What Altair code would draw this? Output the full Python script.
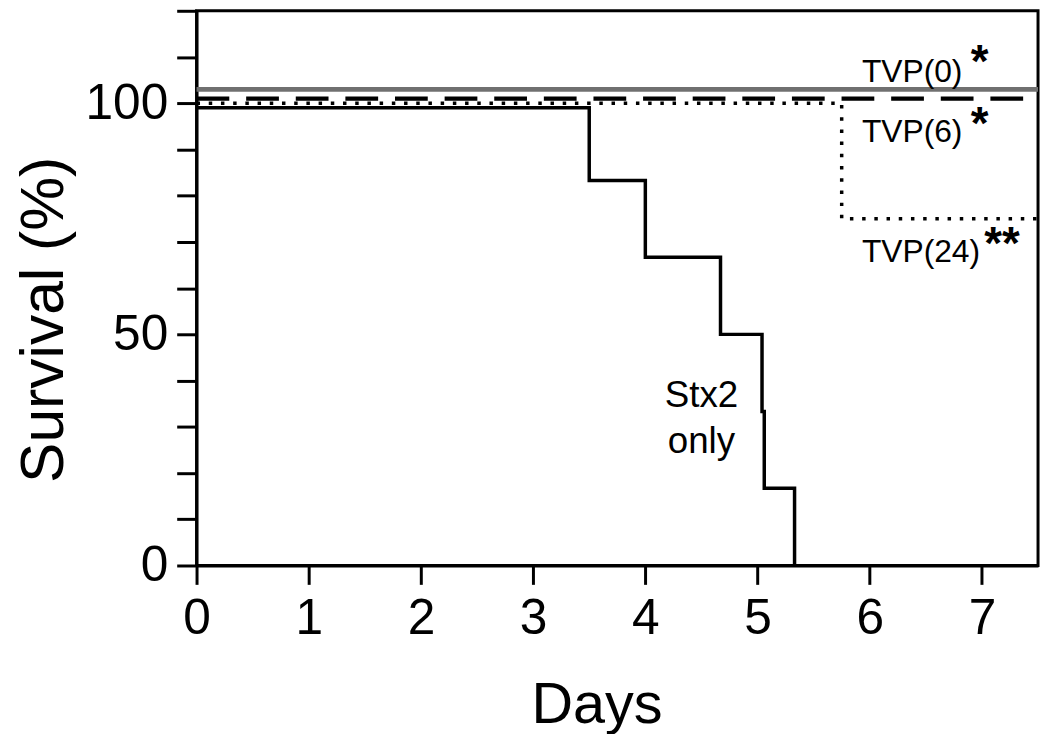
import altair as alt
import pandas as pd

FONT = "Liberation Sans"

# Survival curves (step functions): days and survival (%)
tvp0_days = [0, 7.5]
tvp0_surv = [103, 103]
tvp6_days = [0, 7.5]
tvp6_surv = [101, 101]
tvp24_days = [0, 5.75, 7.5]
tvp24_surv = [100, 75, 75]
stx2_days = [0, 3.5, 4.0, 4.67, 5.04, 5.06, 5.33]
stx2_surv = [99, 83.3, 66.7, 50, 33.3, 16.7, 0]

# Annotations
label_text = ["TVP(0)", "TVP(6)", "TVP(24)"]
label_x = [5.93, 5.93, 5.93]
label_y = [104.7, 91.7, 65.7]
star_text = ["*", "*", "**"]
star_x = [6.9, 6.9, 7.02]
star_y = [105.6, 92.3, 66.4]
stx_text = ["Stx2", "only"]
stx_x = [4.5, 4.5]
stx_y = [34.3, 24.3]

x_ticks = [0, 1, 2, 3, 4, 5, 6, 7]
y_ticks = [0, 10, 20, 30, 40, 50, 60, 70, 80, 90, 100, 110, 120]

xs = alt.Scale(domain=[0, 7.5], nice=False, zero=False)
ys = alt.Scale(domain=[0, 120], nice=False)

x_axis = alt.Axis(values=x_ticks, format="d", title="Days", labelFontSize=50, titleFontSize=58,
                  labelFont=FONT, titleFont=FONT, tickSize=19, tickWidth=3,
                  domainWidth=3, labelPadding=10, titleX=403, titleY=158,
                  titleBaseline="alphabetic", titleAnchor="start", titleAlign="center",
                  titleFontWeight="normal", labelColor="black", titleColor="black",
                  domainColor="black", tickColor="black", grid=False, labelFlush=False)
y_axis = alt.Axis(values=y_ticks, format="d", title="Survival (%)", labelFontSize=50, titleFontSize=61,
                  labelFont=FONT, titleFont=FONT, tickSize=20, tickWidth=3,
                  domainWidth=3, labelPadding=9,
                  labelExpr="(datum.value % 50 == 0 && datum.value <= 100) ? datum.label : ''",
                  titleX=-135, titleY=311, titleAngle=-90, titleBaseline="alphabetic",
                  titleAlign="center", titleFontWeight="normal",
                  labelColor="black", titleColor="black",
                  domainColor="black", tickColor="black", grid=False, labelFlush=False)


def curve(days, surv):
    return pd.DataFrame({"day": days, "surv": surv})


base_x = alt.X("day:Q", scale=xs, axis=x_axis)
base_y = alt.Y("surv:Q", scale=ys, axis=y_axis)

stx2 = alt.Chart(curve(stx2_days, stx2_surv)).mark_line(
    interpolate="step-after", color="black", strokeWidth=3.5
).encode(x=base_x, y=base_y)

tvp24 = alt.Chart(curve(tvp24_days, tvp24_surv)).mark_line(
    interpolate="step-after", color="black", strokeWidth=3.5, strokeDash=[3.5, 8.8]
).encode(x="day:Q", y="surv:Q")

tvp6 = alt.Chart(curve(tvp6_days, tvp6_surv)).mark_line(
    color="black", strokeWidth=4.5, strokeDash=[33, 17]
).encode(x="day:Q", y="surv:Q")

tvp0 = alt.Chart(curve(tvp0_days, tvp0_surv)).mark_line(
    color="#707070", strokeWidth=5
).encode(x="day:Q", y="surv:Q")

labels = alt.Chart(pd.DataFrame({"t": label_text, "x": label_x, "y": label_y})).mark_text(
    align="left", baseline="alphabetic", font=FONT, fontSize=32, color="black"
).encode(x="x:Q", y="y:Q", text="t:N")

stars = alt.Chart(pd.DataFrame({"t": star_text, "x": star_x, "y": star_y})).mark_text(
    align="left", baseline="alphabetic", font=FONT, fontSize=46, fontWeight="bold", color="black"
).encode(x="x:Q", y="y:Q", text="t:N")

stx_labels = alt.Chart(pd.DataFrame({"t": stx_text, "x": stx_x, "y": stx_y})).mark_text(
    align="center", baseline="alphabetic", font=FONT, fontSize=37, color="black"
).encode(x="x:Q", y="y:Q", text="t:N")

chart = alt.layer(stx2, tvp24, tvp6, tvp0, labels, stars, stx_labels).properties(
    width=848, height=559,
    background="white",
    autosize=alt.AutoSizeParams(type="none"),
    padding={"left": 190, "top": 0, "right": 4, "bottom": 167},
).configure_view(stroke="black", strokeWidth=3)

chart.save("out.html", embed_options={"renderer": "svg", "actions": False})
